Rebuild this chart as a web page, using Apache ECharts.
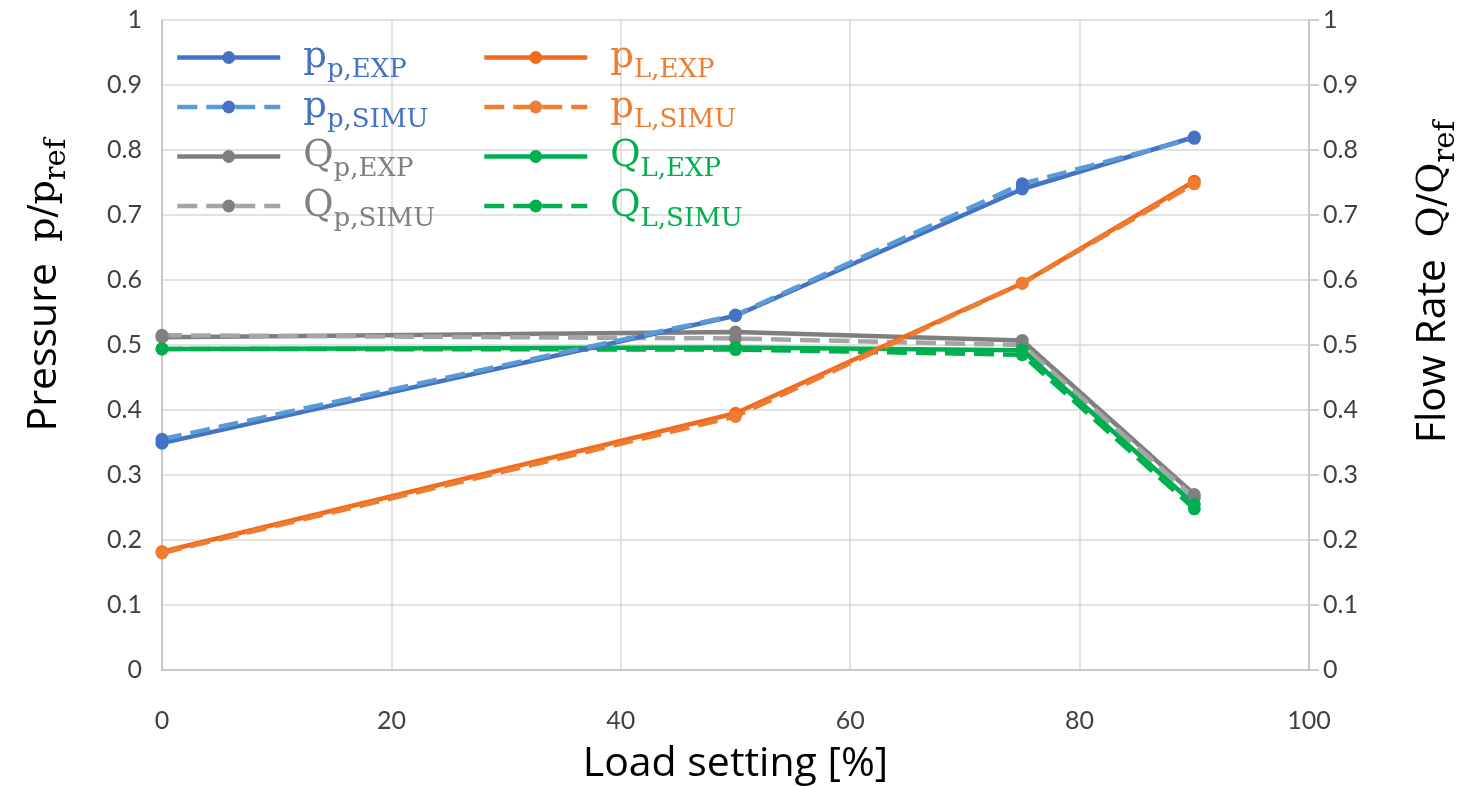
<!DOCTYPE html>
<html><head><meta charset="utf-8">
<script src="https://cdn.jsdelivr.net/npm/echarts@6/dist/echarts.min.js"></script>
<style>html,body{margin:0;padding:0;background:#fff}#c{width:1472px;height:786px}</style>
</head><body><div id="c"></div>
<script>
const loadSetting = [0, 50, 75, 90];
const ppExp   = [0.349, 0.545, 0.740, 0.820];
const ppSimu  = [0.355, 0.546, 0.748, 0.818];
const pLExp   = [0.182, 0.395, 0.595, 0.752];
const pLSimu  = [0.180, 0.390, 0.595, 0.748];
const QpExp   = [0.512, 0.520, 0.507, 0.270];
const QpSimu  = [0.515, 0.510, 0.500, 0.265];
const QLExp   = [0.494, 0.496, 0.492, 0.255];
const QLSimu  = [0.494, 0.493, 0.485, 0.248];
const xTicks = [0, 20, 40, 60, 80, 100];
const yTicks = [0, 0.1, 0.2, 0.3, 0.4, 0.5, 0.6, 0.7, 0.8, 0.9, 1];

const C = {blue:'#4472C4', blueL:'#5B9BD5', orange:'#F26B1D', orangeL:'#ED7D31', gray:'#7F7F7F', grayL:'#A5A5A5', green:'#00B050'};

function pairs(ys){ return loadSetting.map((x,i)=>[x, ys[i]]); }

const DASH = [20, 9];
const seriesDefs = [
  {name:'Qp,EXP', data:QpExp, color:C.gray, dash:'solid', axis:1, main:'Q', sub:'p,EXP', tc:'#808080'},
  {name:'Qp,SIMU', data:QpSimu, color:C.grayL, dash:DASH, axis:1, main:'Q', sub:'p,SIMU', tc:'#808080', sym:'#808080'},
  {name:'QL,EXP', data:QLExp, color:C.green, dash:'solid', axis:1, main:'Q', sub:'L,EXP', tc:C.green},
  {name:'QL,SIMU', data:QLSimu, color:C.green, dash:DASH, axis:1, main:'Q', sub:'L,SIMU', tc:C.green},
  {name:'pp,EXP', data:ppExp, color:C.blue, dash:'solid', axis:0, main:'p', sub:'p,EXP', tc:C.blue},
  {name:'pp,SIMU', data:ppSimu, color:C.blueL, dash:DASH, axis:0, main:'p', sub:'p,SIMU', tc:C.blue, sym:C.blue},
  {name:'pL,EXP', data:pLExp, color:C.orange, dash:'solid', axis:0, main:'p', sub:'L,EXP', tc:C.orangeL},
  {name:'pL,SIMU', data:pLSimu, color:C.orangeL, dash:DASH, axis:0, main:'p', sub:'L,SIMU', tc:C.orangeL},
];

const rich = {};
const fmtMap = {};
seriesDefs.forEach((s,i)=>{
  rich['m'+i] = {fontFamily:'DejaVu Serif', fontSize:37, color:s.tc, lineHeight:52};
  rich['s'+i] = {fontFamily:'DejaVu Serif', fontSize:26, color:s.tc, lineHeight:44, verticalAlign:'bottom'};
  fmtMap[s.name] = '{m'+i+'|'+s.main+'}{s'+i+'|'+s.sub+'}';
});

const series = seriesDefs.map(s=>({
  name:s.name, type:'line', yAxisIndex:s.axis, data:pairs(s.data),
  symbol:'circle', symbolSize:13, showSymbol:true,
  lineStyle:{color:s.color, width:4.5, type:s.dash},
  itemStyle:{color:s.sym||s.color},
  emphasis:{disabled:true}, animation:false
}));

const legendCommon = {
  orient:'vertical', itemWidth:103, itemHeight:16, itemGap:5, padding:0,
  lineStyle:{width:4.5},
  formatter:n=>fmtMap[n], textStyle:{rich:rich, padding:[0,0,0,18]},
  selectedMode:false
};

const axisLabel = {fontFamily:'Lato', fontSize:25, color:'#404040'};
const titleRich = {
  a:{fontFamily:'Open Sans', fontSize:41, color:'#000', lineHeight:56},
  b:{fontFamily:'DejaVu Serif', fontSize:38, color:'#000', lineHeight:56},
  c:{fontFamily:'DejaVu Serif', fontSize:29, color:'#000', lineHeight:32, verticalAlign:'bottom'}
};

const chart = echarts.init(document.getElementById('c'), null, {renderer:'canvas'});
chart.setOption({
  animation:false,
  grid:{left:162, right:163, top:20, bottom:116, outerBoundsMode:'none', containLabel:false},
  legend:[
    Object.assign({}, legendCommon, {left:175, top:39, data:['pp,EXP','pp,SIMU','Qp,EXP','Qp,SIMU']}),
    Object.assign({}, legendCommon, {left:482, top:39, data:['pL,EXP','pL,SIMU','QL,EXP','QL,SIMU']})
  ],
  xAxis:{type:'value', min:xTicks[0], max:xTicks[xTicks.length-1], interval:20,
    axisLine:{show:true, lineStyle:{color:'#BFBFBF', width:1.5}}, axisTick:{show:false},
    splitLine:{show:true, lineStyle:{color:'#D9D9D9', width:1.5}},
    axisLabel:Object.assign({margin:38}, axisLabel),
    name:'Load setting [%]', nameLocation:'middle', nameGap:74,
    nameTextStyle:{fontFamily:'Open Sans', fontSize:41, color:'#000'}},
  yAxis:[
    {type:'value', min:yTicks[0], max:yTicks[yTicks.length-1], interval:0.1, position:'left',
     axisLine:{show:true, lineStyle:{color:'#BFBFBF', width:1.5}}, axisTick:{show:false},
     splitLine:{show:true, lineStyle:{color:'#D9D9D9', width:1.5}},
     axisLabel:Object.assign({margin:20}, axisLabel),
     name:'{a|Pressure  }{b|p/p}{c|ref}', nameLocation:'middle', nameGap:90, nameRotate:90,
     nameTextStyle:{rich:titleRich, padding:[0,0,0,120]}},
    {type:'value', min:yTicks[0], max:yTicks[yTicks.length-1], interval:0.1, position:'right',
     axisLine:{show:true, lineStyle:{color:'#BFBFBF', width:1.5}},
     axisTick:{show:true, length:10, lineStyle:{color:'#BFBFBF', width:1.5}},
     splitLine:{show:false},
     axisLabel:Object.assign({margin:14}, axisLabel),
     name:'{a|Flow Rate  }{b|Q/Q}{c|ref}', nameLocation:'middle', nameGap:96, nameRotate:90,
     nameTextStyle:{rich:titleRich, padding:[0,0,0,126]}}
  ],
  series:series
});
</script></body></html>
